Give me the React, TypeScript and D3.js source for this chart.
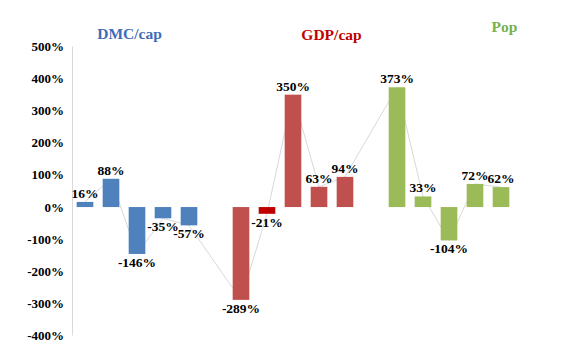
import React, { useRef, useEffect } from 'react'
import { select, scaleBand, scaleLinear, line } from 'd3'

const groups = ['DMC/cap', 'GDP/cap', 'Pop']
const dmcValues = [16, 88, -146, -35, -57]
const gdpValues = [-289, -21, 350, 63, 94]
const popValues = [373, 33, -104, 72, 62]
const yTicks = [-400, -300, -200, -100, 0, 100, 200, 300, 400, 500]

const groupColors = ['#4f81bd', '#c0504d', '#9bbb59']
const titleColors = ['#3e6bb8', '#c00000', '#77b14b']

const W = 565
const H = 357
const FONT = '"Liberation Serif", "Times New Roman", serif'

function App() {
  const svgRef = useRef<SVGSVGElement>(null)

  useEffect(() => {
    const svg = select(svgRef.current)
    svg.selectAll('*').remove()

    // one slot per bar, with an empty slot between groups
    const allValues = [dmcValues, gdpValues, popValues]
    const points: { key: string; value: number; group: number }[] = []
    const slots: string[] = []
    allValues.forEach((vals, g) => {
      vals.forEach((v, i) => {
        const key = groups[g] + '-' + i
        slots.push(key)
        points.push({ key, value: v, group: g })
      })
      if (g < allValues.length - 1) slots.push('gap-' + g)
    })

    const x = scaleBand().domain(slots).range([72, 514]).paddingInner(0.36).paddingOuter(0.18)
    const y = scaleLinear().domain([-400, 500]).range([335.5, 46.5])

    // y axis
    svg.append('line')
      .attr('x1', 72.5).attr('x2', 72.5)
      .attr('y1', y(500)).attr('y2', y(-400))
      .attr('stroke', '#d9d9d9')

    svg.append('g')
      .selectAll('text')
      .data(yTicks)
      .join('text')
      .attr('x', 64)
      .attr('y', d => y(d))
      .attr('dy', '0.35em')
      .attr('text-anchor', 'end')
      .attr('font-family', FONT)
      .attr('font-weight', 'bold')
      .attr('font-size', 13)
      .attr('fill', '#000')
      .text(d => d + '%')

    // connecting line behind bars
    const connector = line<{ key: string; value: number }>()
      .x(d => (x(d.key) as number) + x.bandwidth() / 2)
      .y(d => y(d.value))
    svg.append('path')
      .datum(points)
      .attr('d', connector)
      .attr('fill', 'none')
      .attr('stroke', '#d9d9d9')
      .attr('stroke-width', 1)

    // bars
    svg.append('g')
      .selectAll('rect')
      .data(points)
      .join('rect')
      .attr('x', d => x(d.key) as number)
      .attr('width', x.bandwidth())
      .attr('y', d => y(Math.max(0, d.value)))
      .attr('height', d => Math.abs(y(d.value) - y(0)))
      .attr('fill', d => (d.group === 1 && d.value === -21 ? '#c00000' : groupColors[d.group]))

    // value labels
    svg.append('g')
      .selectAll('text')
      .data(points)
      .join('text')
      .attr('x', d => (x(d.key) as number) + x.bandwidth() / 2)
      .attr('y', d => (d.value >= 0 ? y(d.value) - 4 : y(d.value) + 13))
      .attr('text-anchor', 'middle')
      .attr('font-family', FONT)
      .attr('font-weight', 'bold')
      .attr('font-size', 13.5)
      .attr('fill', '#000')
      .text(d => d.value + '%')

    // group titles
    const titlePos = [
      { cx: 129.5, by: 38.5 },
      { cx: 331.5, by: 39.5 },
      { cx: 504.5, by: 32 },
    ]
    svg.append('g')
      .selectAll('text')
      .data(groups)
      .join('text')
      .attr('x', (d, i) => titlePos[i].cx)
      .attr('y', (d, i) => titlePos[i].by)
      .attr('text-anchor', 'middle')
      .attr('font-family', FONT)
      .attr('font-weight', 'bold')
      .attr('font-size', 15.5)
      .attr('fill', (d, i) => titleColors[i])
      .text(d => d)
  }, [])

  return (
    <svg
      ref={svgRef}
      width={W}
      height={H}
      style={{ position: 'absolute', left: 0, top: 0, background: '#fff' }}
    />
  )
}

export default App
